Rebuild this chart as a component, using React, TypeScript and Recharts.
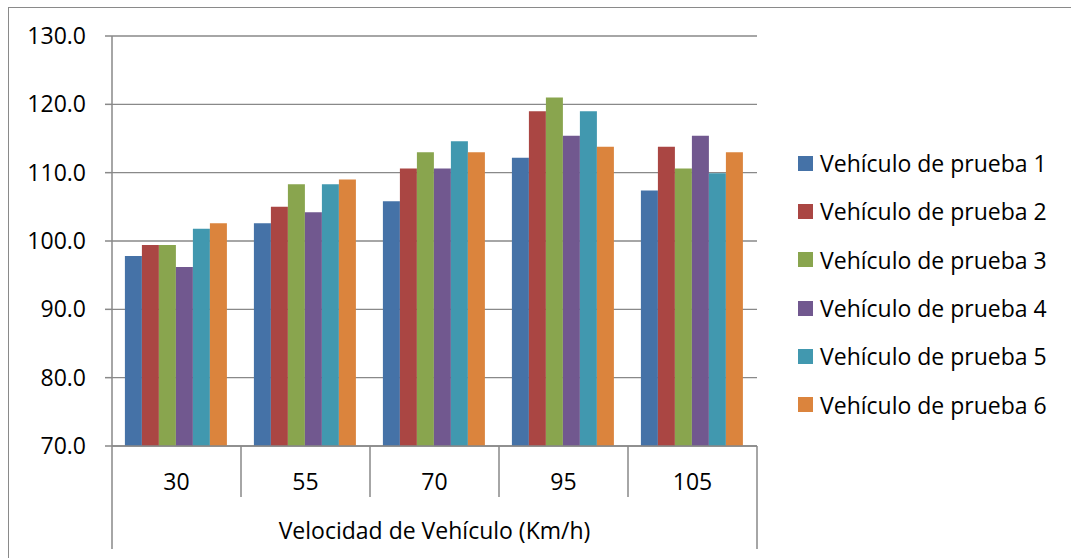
import React from 'react';
import { BarChart, Bar, XAxis, YAxis, CartesianGrid, Legend } from 'recharts';

const speeds = ['30', '55', '70', '95', '105'];
const prueba1 = [97.8, 102.6, 105.8, 112.2, 107.4];
const prueba2 = [99.4, 105.0, 110.6, 119.0, 113.8];
const prueba3 = [99.4, 108.3, 113.0, 121.0, 110.6];
const prueba4 = [96.2, 104.2, 110.6, 115.4, 115.4];
const prueba5 = [101.8, 108.3, 114.6, 119.0, 109.9];
const prueba6 = [102.6, 109.0, 113.0, 113.8, 113.0];
const yTicks = [70, 80, 90, 100, 110, 120, 130];

const series = [
  { key: 'p1', name: 'Vehículo de prueba 1', color: '#4572A7', values: prueba1 },
  { key: 'p2', name: 'Vehículo de prueba 2', color: '#AA4643', values: prueba2 },
  { key: 'p3', name: 'Vehículo de prueba 3', color: '#89A54E', values: prueba3 },
  { key: 'p4', name: 'Vehículo de prueba 4', color: '#71588F', values: prueba4 },
  { key: 'p5', name: 'Vehículo de prueba 5', color: '#4198AF', values: prueba5 },
  { key: 'p6', name: 'Vehículo de prueba 6', color: '#DB843D', values: prueba6 },
];

const data = speeds.map((speed, i) => {
  const row: Record<string, string | number> = { speed };
  series.forEach((s) => { row[s.key] = s.values[i]; });
  return row;
});

const W = 1071;
const H = 558;
const PLOT_LEFT = 112;
const PLOT_RIGHT = 757;
const PLOT_TOP = 36;
const PLOT_BOTTOM = 446;
const BAND = (PLOT_RIGHT - PLOT_LEFT) / speeds.length;
const AXIS_GRAY = '#898989';
const FONT = '"Open Sans", sans-serif';
const FS = 23;

// two-level category axis: speed label plus the boxed separators
const SpeedTick = (props: any) => {
  const { x, payload, index } = props;
  const last = index === speeds.length - 1;
  return (
    <g>
      <line x1={x - BAND / 2} x2={x - BAND / 2} y1={PLOT_BOTTOM} y2={index === 0 ? 549 : 497} stroke={AXIS_GRAY} strokeWidth={1.5} />
      {last && <line x1={x + BAND / 2} x2={x + BAND / 2} y1={PLOT_BOTTOM} y2={549} stroke={AXIS_GRAY} strokeWidth={1.5} />}
      <text x={x} y={481} textAnchor="middle" dominantBaseline="central" fill="#000" fontSize={FS} fontFamily={FONT}>
        {payload.value}
      </text>
    </g>
  );
};

const LegendBox = () => (
  <div style={{ fontFamily: FONT, fontSize: FS, color: '#000' }}>
    {series.map((s) => (
      <div key={s.key} style={{ height: 48.3, display: 'flex', alignItems: 'center', whiteSpace: 'nowrap' }}>
        <span style={{ width: 15, height: 15, background: s.color, marginRight: 7, display: 'inline-block' }} />
        {s.name}
      </div>
    ))}
  </div>
);

export default function App() {
  return (
    <div style={{ position: 'absolute', left: 0, top: 0, width: W, height: H, overflow: 'hidden', background: '#fff' }}>
      <div style={{ position: 'absolute', left: 8, top: 7, width: 1200, height: 700, border: '1.5px solid #8a8a8a' }} />
      <BarChart
        width={W}
        height={H}
        data={data}
        margin={{ top: PLOT_TOP, right: W - PLOT_RIGHT, bottom: 0, left: 0 }}
        barCategoryGap="10%"
        barGap={0}
        style={{ position: 'absolute', left: 0, top: 0, fontFamily: FONT }}
      >
        <CartesianGrid vertical={false} stroke={AXIS_GRAY} strokeWidth={1.3} />
        <XAxis
          dataKey="speed"
          height={H - PLOT_BOTTOM}
          interval={0}
          axisLine={{ stroke: AXIS_GRAY, strokeWidth: 1.5 }}
          tickLine={false}
          tick={<SpeedTick />}
          label={{ value: 'Velocidad de Vehículo (Km/h)', position: 'insideBottom', offset: 19, fill: '#000', fontSize: FS, fontFamily: FONT }}
        />
        <YAxis
          width={PLOT_LEFT}
          domain={[70, 130]}
          ticks={yTicks}
          allowDataOverflow
          tickFormatter={(v: number) => v.toFixed(1)}
          axisLine={{ stroke: AXIS_GRAY, strokeWidth: 1.5 }}
          tickLine={{ stroke: AXIS_GRAY, strokeWidth: 1.5 }}
          tickSize={7}
          tickMargin={19}
          tick={{ fill: '#000', fontSize: FS, fontFamily: FONT }}
        />
        <Legend
          layout="horizontal"
          align="center"
          verticalAlign="middle"
          content={<LegendBox />}
          wrapperStyle={{ left: 798, top: 139, width: 272 }}
        />
        {series.map((s) => (
          <Bar key={s.key} dataKey={s.key} name={s.name} fill={s.color} isAnimationActive={false} />
        ))}
      </BarChart>
    </div>
  );
}
